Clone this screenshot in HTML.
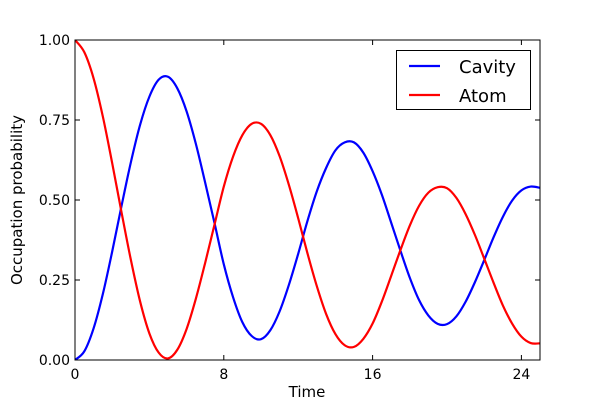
<!DOCTYPE html>
<html><head><meta charset="utf-8"><style>
html,body{margin:0;padding:0;background:#fff;}
svg{display:block;font-family:"DejaVu Sans","Liberation Sans",sans-serif;}
</style></head><body>
<svg id="chart" width="600" height="400" viewBox="0 0 600 400" xmlns="http://www.w3.org/2000/svg">
<rect x="0" y="0" width="600" height="400" fill="#fff"/>
</svg>
<script>
const times = [0,0.5,1,1.5,2,2.5,3,3.5,4,4.5,5,5.5,6,6.5,7,7.5,8,8.5,9,9.5,10,10.5,11,11.5,12,12.5,13,13.5,14,14.5,15,15.5,16,16.5,17,17.5,18,18.5,19,19.5,20,20.5,21,21.5,22,22.5,23,23.5,24,24.5,25];
const cavityValues = [0,.027,.099,.207,.339,.481,.617,.735,.823,.876,.885,.849,.777,.675,.554,.428,.299,.196,.118,.075,.065,.093,.152,.235,.332,.435,.527,.600,.655,.680,.680,.648,.590,.516,.429,.341,.257,.187,.139,.113,.112,.136,.182,.243,.312,.383,.447,.498,.530,.542,.538];
const atomValues = [1,.962,.880,.760,.615,.462,.314,.183,.083,.023,.005,.032,.097,.192,.304,.423,.542,.636,.703,.738,.738,.703,.637,.547,.443,.333,.231,.144,.081,.046,.041,.066,.114,.183,.263,.344,.420,.482,.523,.540,.537,.507,.456,.391,.317,.242,.171,.114,.073,.053,.052];
const xTicks = [0,8,16,24];
const yTicks = [0,0.25,0.5,0.75,1];
const yTickLabels = ["0.00","0.25","0.50","0.75","1.00"];

const NS="http://www.w3.org/2000/svg";
const svg=document.getElementById('chart');
const L=75,R=540,T=40,B=360,XMAX=25;
const sx=v=>L+(v/XMAX)*(R-L);
const sy=v=>B-v*(B-T);
function mk(tag,attrs,parent){const e=document.createElementNS(NS,tag);for(const k in attrs)e.setAttribute(k,attrs[k]);(parent||svg).appendChild(e);return e;}
function smooth(pts){let d=`M${pts[0][0]},${pts[0][1]}`;for(let i=0;i<pts.length-1;i++){const p0=pts[i-1]||pts[i],p1=pts[i],p2=pts[i+1],p3=pts[i+2]||p2;
const c1=[p1[0]+(p2[0]-p0[0])/6,p1[1]+(p2[1]-p0[1])/6],c2=[p2[0]-(p3[0]-p1[0])/6,p2[1]-(p3[1]-p1[1])/6];
d+=` C${c1[0].toFixed(2)},${c1[1].toFixed(2)} ${c2[0].toFixed(2)},${c2[1].toFixed(2)} ${p2[0].toFixed(2)},${p2[1].toFixed(2)}`;}return d;}

const clip=mk('clipPath',{id:'pc'});mk('rect',{x:L,y:T,width:R-L,height:B-T},clip);
const cav=mk('path',{d:smooth(times.map((t,i)=>[sx(t),sy(cavityValues[i])])),fill:'none',stroke:'#0000ff','stroke-width':2.2,'clip-path':'url(#pc)'});


const atm=mk('path',{d:smooth(times.map((t,i)=>[sx(t),sy(atomValues[i])])),fill:'none',stroke:'#ff0000','stroke-width':2.2,'clip-path':'url(#pc)'});



const frame=mk('rect',{x:L,y:T,width:R-L,height:B-T,fill:'none',stroke:'#000','stroke-width':1});



xTicks.forEach(v=>{const x=sx(v);
mk('line',{x1:x,y1:B,x2:x,y2:B-5,stroke:'#000'});mk('line',{x1:x,y1:T,x2:x,y2:T+5,stroke:'#000'});
const t=mk('text',{x:x,y:B+19,'text-anchor':'middle','font-size':14});t.textContent=String(v);

});
yTicks.forEach((v,i)=>{const y=sy(v);
mk('line',{x1:L,y1:y,x2:L+5,y2:y,stroke:'#000'});mk('line',{x1:R,y1:y,x2:R-5,y2:y,stroke:'#000'});
const t=mk('text',{x:L-5,y:y+5,'text-anchor':'end','font-size':14});t.textContent=yTickLabels[i];

});

const xl=mk('text',{x:307,y:397,'text-anchor':'middle','font-size':15});xl.textContent='Time';


const yl=mk('text',{x:22,y:200,'text-anchor':'middle','font-size':15,transform:'rotate(-90 22 200)'});yl.textContent='Occupation probability';



const lg=mk('g',{});


mk('rect',{x:396.5,y:50.5,width:134,height:59,fill:'#fff',stroke:'#000'},lg);
[['Cavity','#0000ff',66],['Atom','#ff0000',95]].forEach(([n,c,y])=>{
const g=mk('g',{},lg);


mk('line',{x1:409,y1:y,x2:440,y2:y,stroke:c,'stroke-width':2.2},g);
const t=mk('text',{x:459,y:y+7,'font-size':18},g);t.textContent=n;});
</script>
</body></html>
